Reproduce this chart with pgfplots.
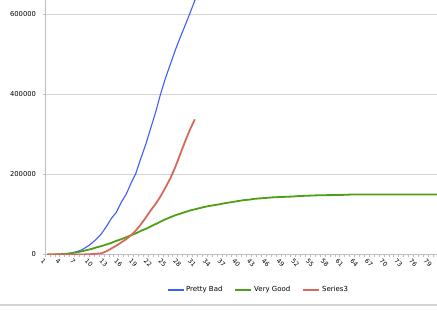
\documentclass[border=0pt]{standalone}
\usepackage{fontspec}
\setmainfont{DejaVu Sans}
\usepackage{pgfplots}
\usepackage{pgfplotstable}
\pgfplotsset{compat=1.18}
\definecolor{cblue}{RGB}{60,92,255}
\definecolor{cgreen}{RGB}{78,158,22}
\definecolor{cred}{RGB}{212,106,94}
\definecolor{cgrid}{RGB}{212,212,212}
\definecolor{caxis}{RGB}{190,190,190}

\pgfplotstableread{
x y
1 0
2 0
3 500
4 1000
5 2000
6 4000
7 7000
8 12000
9 19000
10 28000
11 39000
12 52000
13 70000
14 90000
15 105000
16 130000
17 150000
18 178000
19 203000
20 240000
21 275000
22 315000
23 355000
24 400000
25 440000
26 475000
27 510000
28 542000
29 572000
30 603000
31 635000
32 665000
}\prettybad

\pgfplotstableread{
x y
1 0
2 0
3 500
4 1000
5 2000
6 3500
7 5500
8 8000
9 11000
10 14000
11 18000
12 21000
13 25000
14 29000
15 34000
16 38000
17 43000
18 48000
19 53000
20 59000
21 64000
22 70000
23 76000
24 82000
25 88000
26 93000
27 98000
28 102000
29 106000
30 110000
31 113000
32 116000
33 119000
34 121500
35 123500
36 125500
37 128000
38 130000
39 132000
40 134000
41 136000
42 137000
43 139000
44 140000
45 141000
46 142000
47 143000
48 143500
49 144000
50 144500
51 145000
52 146000
53 146500
54 147000
55 147500
56 148000
57 148000
58 148500
59 148500
60 149000
61 149000
62 149500
63 150000
64 150000
65 150000
66 150000
67 150000
68 150000
69 150000
70 150000
71 150000
72 150000
73 150000
74 150000
75 150000
76 150000
77 150000
78 150000
79 150000
80 150000
81 150000
}\verygood

\pgfplotstableread{
x y
1 0
2 0
3 0
4 0
5 0
6 0
7 0
8 0
9 500
10 1000
11 2000
12 3000
13 8000
14 15000
15 22000
16 30000
17 38000
18 48000
19 60000
20 75000
21 92000
22 110000
23 126000
24 145000
25 167000
26 190000
27 218000
28 250000
29 282000
30 312000
31 338000
}\seriesthree

\begin{document}
\begin{tikzpicture}[x=1bp,y=1bp]
\useasboundingbox (0,0) rectangle (437,309);
\draw[cgrid, line width=1.2bp] (0,4) -- (437,4);
\begin{axis}[
  at={(45bp,54.5bp)}, anchor=south west,
  scale only axis, width=392bp, height=254.5bp,
  xmin=0.5, xmax=80.3, ymin=0, ymax=636250,
  axis x line*=bottom, axis y line*=left,
  axis line style={draw=caxis, line width=0.9bp},
  ymajorgrids, grid style={cgrid, line width=1.2bp},
  ytick={0,200000,400000,600000},
  xtick={1,4,...,79},
  minor xtick={0.5,1.5,...,80.5},
  major x tick style={draw=none},
  minor x tick style={draw=caxis, line width=0.6bp},
  major y tick style={draw=caxis, line width=0.9bp},
  major tick length=2.5bp, minor tick length=2.5bp,
  tick align=outside,
  scaled y ticks=false,
  /pgf/number format/assume math mode=true,
  yticklabel style={/pgf/number format/fixed, /pgf/number format/1000 sep={}, font=\fontsize{6.8}{8}\selectfont, anchor=east, xshift=-3bp},
  xticklabel style={rotate=-45, anchor=north west, font=\fontsize{6.3}{7}\selectfont, inner sep=0.5bp, xshift=-2.5bp, yshift=-3bp},
  legend style={at={(axis description cs:0.5446,-0.1395)}, anchor=center, draw=none, fill=none,
    font=\fontsize{7}{8}\selectfont, inner sep=0pt,
    /tikz/every even column/.append style={column sep=10bp}},
  legend columns=3,
  legend image code/.code={\draw[#1] (0bp,0bp) -- (16bp,0bp);},
]
\addplot[cblue, line width=1.1bp, mark=none] table {\prettybad};
\addlegendentry{Pretty Bad}
\addplot[cgreen, line width=1.8bp, mark=none] table {\verygood};
\addlegendentry{Very Good}
\addplot[cred, line width=1.8bp, mark=none] table {\seriesthree};
\addlegendentry{Series3}
\end{axis}
\end{tikzpicture}
\end{document}
